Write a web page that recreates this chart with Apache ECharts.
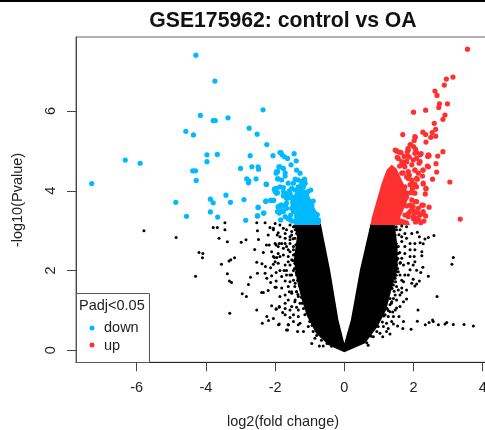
<!DOCTYPE html>
<html><head><meta charset="utf-8">
<style>html,body{margin:0;padding:0;background:#fff;overflow:hidden}#c{width:485px;height:430px;filter:blur(0.35px)}</style>
<script src="https://cdn.jsdelivr.net/npm/echarts@6/dist/echarts.min.js"></script>
</head><body><div id="c"></div>
<script>
const titleText = 'GSE175962: control vs OA';
const xName = 'log2(fold change)';
const yName = '-log10(Pvalue)';
const legendTitle = 'Padj<0.05';
const xTicks = [-6,-4,-2,0,2,4];
const yTicks = [0,2,4,6];

// genes significantly down
const down = [[-4.29,7.40],[-3.74,6.75],[-2.35,6.03],[-4.16,5.89],[-3.79,5.76],[-3.73,5.76],[-3.36,5.83],[-2.75,5.57],[-2.52,5.42],[-4.58,5.49],[-4.36,5.40],[-2.24,5.16],[-3.97,4.90],[-3.67,4.91],[-3.97,4.73],[-2.72,4.88],[-2.06,4.88],[-6.33,4.77],[-5.90,4.69],[-7.30,4.18],[-4.38,4.50],[-4.30,4.50],[-4.28,4.26],[-3.00,4.56],[-2.67,4.60],[-2.49,4.60],[-2.48,4.54],[-2.82,4.30],[-2.76,4.25],[-2.77,4.20],[-2.55,4.30],[-2.25,4.16],[-1.96,4.48],[-1.89,4.60],[-1.86,4.96],[-1.93,4.30],[-3.42,3.89],[-3.87,3.79],[-3.79,3.70],[-3.29,3.71],[-2.90,3.78],[-4.87,3.71],[-3.87,3.47],[-3.66,3.34],[-4.56,3.36],[-2.85,3.26],[-2.49,3.58],[-2.51,3.37],[-2.33,3.44],[-2.27,3.74],[-2.12,3.76],[-2.04,3.76],[-2.02,4.04],[-1.96,4.06],[-1.96,3.94],[-1.91,3.60],[-1.93,3.48],
[-1.83,4.96],[-1.80,4.90],[-1.73,4.85],[-1.64,4.81],[-1.45,4.93],[-1.39,4.75],[-1.54,4.65],[-1.86,4.60],[-1.93,4.48],[-1.71,4.45],[-1.71,4.37],[-1.81,4.27],[-1.91,4.30],[-1.38,4.52],[-1.28,4.44],[-1.42,4.29],[-1.33,4.27],[-1.15,4.29],[-1.13,4.19],[-0.97,4.02],[-1.52,4.06],[-1.59,4.00],[-1.76,4.08],[-1.76,3.98],[-1.97,4.06],[-1.93,3.95],[-1.76,3.87],[-2.26,4.17],[-2.27,3.74],[-2.13,3.76],[-2.05,3.76],[-2.49,3.59],[-2.33,3.44],[-2.51,3.37],[-1.84,3.27],[-1.91,3.60],[-1.81,3.64],[-1.76,3.48],[-1.81,3.50],[-1.52,3.56],[-1.55,3.39],[-1.47,3.48],[-1.67,3.69],
[-1.62,3.30],[-1.70,3.60],[-1.60,3.82],[-1.66,3.92],[-1.24,4.15],[-1.05,3.98],[-0.90,3.74],[-0.78,3.40],[-0.74,3.24],[-1.50,3.24],
[-1.67,3.81],[-1.52,3.85],[-1.42,4.02],[-1.57,3.94],[-1.67,3.56],[-1.84,3.64],[-1.88,3.44],[-1.71,3.35],[-1.62,3.31],[-1.55,3.27],[-1.47,4.19],[-1.62,4.19],[-1.23,4.23],[-1.18,4.10],[-1.09,3.89],[-0.94,3.64],[-0.85,3.44],[-0.75,3.27],[-2.00,3.98],[-1.86,4.10],[-1.97,4.44],[-1.76,4.56],[-1.33,4.10]];
// outline of the solid blue cluster
const downCore = [[-1.45,3.14],[-1.45,3.40],[-1.55,3.60],[-1.57,3.73],[-1.42,3.95],[-1.30,4.12],[-1.12,4.02],[-0.95,3.77],[-0.82,3.50],[-0.70,3.14]];

// genes significantly up
const up = [[3.56,7.55],[3.14,6.85],[2.95,6.80],[2.89,6.65],[2.62,6.50],[2.68,6.39],[2.98,6.18],[2.75,6.18],[2.73,6.09],[2.35,6.02],[2.00,5.97],[2.91,5.90],[2.85,5.79],[2.60,5.69],[2.64,5.54],[2.54,5.46],[2.27,5.47],[2.35,5.41],[2.50,5.34],[2.64,5.37],[2.36,5.22],[1.69,5.41],[2.05,5.34],[2.02,5.26],[1.92,5.16],[2.00,5.11],[1.84,5.06],[2.06,5.04],[1.47,5.02],[1.53,4.99],[1.61,4.96],[1.82,4.97],[2.09,4.96],[2.22,4.93],[2.45,4.88],[2.41,4.86],[2.70,4.87],[2.85,4.98],[1.53,4.84],[1.73,4.86],[1.88,4.84],[2.09,4.81],[1.80,4.73],[2.16,4.69],[1.71,4.65],[2.40,4.62],[2.65,4.68],[2.27,4.52],[2.04,4.52],[2.67,4.47],[1.88,4.39],[2.26,4.37],[2.55,4.29],[3.05,4.22],[2.11,4.29],[1.85,4.31],[2.28,4.17],[2.04,4.17],[1.97,4.06],[2.36,4.05],[2.34,3.92],[3.35,3.29],[2.09,3.73],[2.28,3.64],[2.45,3.59],[1.99,3.60],[2.28,3.48],[1.90,3.48],[2.35,3.37],[2.14,3.44],[2.30,3.24],[2.21,3.20],[1.80,3.85],[1.95,3.77],[2.04,3.48],[1.75,4.10],[1.82,3.94],[1.69,3.69],[1.85,3.35],[1.75,3.39],
[1.93,3.95],[1.95,4.20],[1.70,4.45],[1.60,4.62],[2.00,3.30],[2.06,3.22],[2.15,3.27],[1.95,3.62],[1.80,3.62],
[1.51,5.00],[1.64,4.96],[1.56,4.81],[1.85,5.02],[1.90,5.15],[2.04,5.36],[2.04,4.94],[2.19,4.90],[2.43,4.90],[1.85,4.86],[1.99,4.77],[2.19,4.73],[2.43,4.60],[2.28,4.52],[2.04,4.52],[1.75,4.60],[1.85,4.48],[2.09,4.31],[2.28,4.19],[2.09,4.10],[2.36,4.06],[2.04,3.73],[2.24,3.64],[2.14,3.56],[2.28,3.43],[1.90,3.64],[1.85,3.43],[1.71,4.02],[1.75,3.85],[1.95,4.27],[1.80,4.35],[1.66,4.44],[1.95,3.98],[2.04,3.94],[1.90,4.15],[2.14,4.44],[1.95,4.65],[1.80,4.73],[1.66,4.73],[1.99,3.35],[2.09,3.31],[2.19,3.39],[1.95,3.52],[2.02,3.43]];
// outline of the solid red cluster
const upCore = [[0.76,3.14],[0.79,3.31],[0.94,3.77],[1.08,4.19],[1.22,4.52],[1.37,4.65],[1.51,4.56],[1.66,4.27],[1.80,4.02],[1.85,3.81],[1.71,3.52],[1.61,3.31],[1.85,3.25],[1.90,3.14]];

// not significant genes
const ns = [[-5.79,3.00],[-4.86,2.83],[-4.20,2.45],[-4.09,2.43],[-4.10,2.32],[-4.30,1.86],[-3.31,0.93],[-3.55,2.16],[-3.33,2.24],[-3.28,2.27],[-3.17,2.32],[-3.38,1.92],[-3.32,1.74],[-3.26,1.70],[-2.95,1.42],[-2.83,1.35],[-2.77,1.65],[-2.71,1.83],[-2.59,2.53],[-2.53,2.21],[-2.51,1.93],[-2.53,1.01],[-2.39,1.45],[-2.34,1.45],[-2.37,0.68],[-2.24,0.85],[-2.19,0.75],[-2.05,0.80],[-2.10,1.12],[-1.97,1.03],[-1.88,1.08],[-2.20,1.50],[-2.38,2.17],[-2.28,2.10],[-2.29,1.93],[-2.13,2.07],[-2.05,2.16],[-1.97,1.95],[-2.24,1.81],[-2.10,1.87],[-2.13,1.70],[-1.97,1.74],[-2.00,1.58],[-2.34,2.45],[-2.10,2.47],[-2.25,2.64],[-2.17,2.64],[-1.97,2.64],[-1.88,2.68],[-2.02,2.33],[-1.95,2.33],[-1.91,2.43],[-2.98,2.71],[-2.84,2.77],[-2.48,2.78],[-2.51,3.00],[-2.20,2.89],[-2.05,3.06],[-1.91,2.95],[-2.53,3.20],[-2.29,3.20],[-2.15,3.08],[-3.45,3.02],[-3.79,3.08],[-3.67,3.08],[-3.62,2.81],[-3.38,2.72],[-3.45,3.20],[-1.90,0.64],
[-1.88,0.66],[-1.62,0.64],[-1.64,0.51],[-1.35,0.47],[-1.33,0.64],[-1.57,0.82],[-1.38,1.08],[-1.52,1.10],[-1.71,1.05],[-1.78,0.95],[-1.88,1.10],[-1.97,1.04],[-1.71,1.39],[-1.59,1.47],[-1.81,1.56],[-1.97,1.58],[-1.71,1.74],[-1.57,1.72],[-1.43,1.60],[-1.38,1.47],[-1.52,1.89],[-1.38,1.89],[-1.81,1.85],[-1.67,2.00],[-1.57,2.14],[-1.43,2.18],[-1.71,2.14],[-1.86,2.35],[-1.76,2.56],[-1.62,2.52],[-1.47,2.39],[-1.91,2.60],[-1.57,2.68],[-1.86,2.85],[-1.71,2.81],[-1.52,2.89],[-1.38,2.93],[-1.67,3.02],[-1.47,3.10],[-1.86,3.14],[-2.05,3.02],[-2.00,3.18],
[-1.52,2.98],[-1.42,3.02],[-1.57,2.77],[-1.47,2.52],[-1.62,2.35],[-1.42,2.18],[-1.57,1.89],[-1.42,1.68],[-1.52,1.47],[-1.38,1.47],[-1.42,1.26],[-1.28,1.18],[-1.18,1.05],[-1.33,1.01],[-1.14,0.89],[-1.28,0.68],[-1.18,0.47],[-1.04,0.60],[-0.94,0.17],[-0.72,0.11],[-0.61,0.11],[-0.85,0.30],[-0.37,0.10],[-1.67,0.51],[-1.62,0.64],
[-1.48,2.80],[-1.40,2.65],[-1.43,2.40],[-1.49,2.25],[-1.44,2.05],[-1.39,1.95],[-1.35,1.75],[-1.30,1.62],[-1.34,1.40],[-1.24,1.33],[-1.22,1.18],[-1.10,1.07],[-1.08,0.93],[-1.00,0.72],[-0.93,0.62],[-0.90,0.47],[-0.80,0.37],[-0.66,0.25],[-0.50,0.17],[-1.28,2.96],[-1.45,3.10],[-1.31,3.08],[-1.35,2.42],[-1.33,2.10],
[-2.05,2.35],[-2.00,2.22],[-1.91,2.18],[-1.76,2.39],[-1.67,2.60],[-1.57,2.47],[-1.47,2.60],[-1.86,2.00],[-1.74,2.00],[-1.62,2.22],[-1.52,2.27],[-1.40,2.43],[-1.33,2.56],[-1.71,2.93],[-1.57,2.85],[-1.43,2.81],[-1.33,3.02],[-1.57,3.14],[-1.76,3.06],[-1.94,2.89],[-2.00,2.68],[-1.81,2.68],[-1.71,2.68],[-1.67,1.89],[-1.47,1.76],[-1.33,1.76],[-1.33,2.06],[-1.47,2.00],[-1.62,1.60],[-1.52,1.43],[-1.33,1.35],[-1.43,1.22],[-1.62,1.26],[-1.86,1.35],[-1.71,1.18],[-1.57,1.01],[-1.47,0.89],[-1.71,0.89],[-1.47,0.72],[-1.33,0.85],
[3.73,0.61],[3.46,0.65],[3.15,0.65],[2.96,0.70],[2.91,0.66],[2.72,0.64],[2.55,0.76],[2.57,0.72],[2.45,0.70],[2.34,0.64],[2.11,0.73],[2.13,1.01],[2.68,1.35],[3.15,2.33],[3.11,2.16],[2.43,1.86],[2.59,2.88],[2.43,2.83],[2.33,2.79],[2.28,2.67],[2.19,2.70],[2.11,2.96],[2.17,2.85],[2.24,2.47],[2.24,2.37],[2.04,2.68],[2.02,2.35],[2.04,2.22],[2.27,2.08],[2.21,1.95],[1.99,1.78],[2.17,1.74],[2.09,1.66],[2.04,1.61],[1.80,1.51],[1.66,1.45],[1.80,1.29],[1.58,0.85],[1.71,0.72],[1.69,0.55],[1.54,0.61],[1.93,0.53],[1.42,0.66],[1.32,0.41],[1.11,0.34],[1.22,0.47],[0.69,0.13],[0.65,0.19],[0.84,0.34],[1.75,2.93],[1.95,2.93],[1.61,3.02],[1.90,2.68],[1.75,2.43],[1.90,2.35],[1.71,2.14],[1.90,2.02],[1.85,1.89],[1.61,1.89],[1.71,1.72],[1.56,1.51],[1.61,1.10],[1.47,1.01],[1.42,0.85],[1.22,0.68],[1.71,1.22],[1.51,1.26],[1.42,2.77],[1.56,2.60],[1.51,2.26],[1.42,1.64],[1.47,1.39],[1.32,1.14],[1.27,0.85],
[1.50,3.10],[1.58,2.90],[1.50,2.68],[1.60,2.45],[1.55,2.30],[1.62,2.20],[1.54,2.05],[1.50,1.88],[1.48,1.72],[1.38,1.55],[1.44,1.48],[1.32,1.30],[1.36,1.18],[1.24,1.05],[1.27,1.00],[1.14,0.86],[1.10,0.71],[0.98,0.60],[0.94,0.47],[0.78,0.35],[1.45,3.02],[1.66,3.12],[1.80,3.10],[1.40,0.96],
[1.51,3.02],[1.66,2.85],[1.47,2.89],[1.80,2.81],[1.66,2.73],[1.75,2.60],[1.56,2.43],[1.66,2.31],[1.51,2.14],[1.61,2.18],[1.56,1.97],[1.47,2.01],[1.75,1.89],[1.66,1.76],[1.47,1.81],[1.51,1.60],[1.37,1.56],[1.66,1.56],[1.61,1.39],[1.42,1.30],[1.37,1.22],[1.51,1.06],[1.32,0.97],[1.18,0.89],[1.37,0.72],[1.13,0.60],[1.27,0.55],[1.03,0.43],[1.90,2.52],[2.04,2.52],[1.85,2.18],[1.99,2.14],[2.09,2.01],[1.95,1.68]];
// outline of the solid black V
const nsCore = [[-1.45,3.18],[-1.37,2.85],[-1.46,2.26],[-1.37,1.76],[-1.23,1.26],[-1.07,0.84],[-0.82,0.43],[-0.45,0.13],[0,-0.05],[0.60,0.18],[0.96,0.59],[1.21,1.01],[1.36,1.51],[1.54,2.01],[1.54,2.60],[1.45,3.18],[0.76,3.18],[0.45,2.01],[0.19,0.76],[0,0.18],[-0.17,0.76],[-0.41,2.01],[-0.68,3.18]];

const BLUE='#00B9FF', RED='#FF3030', TXT='#222';
const FONT='14.5px "Liberation Sans"';
function core(points,color){
  return {type:'custom',coordinateSystem:'cartesian2d',silent:true,data:[0],
    renderItem:(p,api)=>({type:'polygon',shape:{points:points.map(q=>api.coord(q))},style:{fill:color}})};
}
function dots(d,color,size){return {type:'scatter',data:d,symbolSize:size,itemStyle:{color,opacity:1},silent:true};}

const chart=echarts.init(document.getElementById('c'),null,{renderer:'canvas'});
chart.setOption({
  animation:false,backgroundColor:'#fff',
  textStyle:{fontFamily:'"Liberation Sans",Arial,sans-serif'},
  grid:{left:76,top:37,width:420,height:325.3,outerBoundsMode:'none',show:true,borderColor:'#666',borderWidth:1,backgroundColor:'transparent'},
  xAxis:{type:'value',min:-7.754,max:4.384,splitLine:{show:false},
    axisLine:{show:true,onZero:false,lineStyle:{color:'#222'}},
    axisTick:{show:true,length:9,customValues:xTicks,lineStyle:{color:'#444'}},
    axisLabel:{show:true,customValues:xTicks,margin:18,fontSize:14.5,color:TXT,hideOverlap:false,alignMinLabel:'center',alignMaxLabel:'center'}},
  yAxis:{type:'value',min:-0.30,max:7.855,splitLine:{show:false},
    axisLine:{show:true,onZero:false,lineStyle:{color:'#444'}},
    axisTick:{show:true,length:9,customValues:yTicks,lineStyle:{color:'#444'}},
    axisLabel:{show:true,customValues:yTicks,rotate:90,margin:18,fontSize:14.5,color:TXT}},
  series:[core(nsCore,'#000'),dots(ns,'#000',3),
          core(downCore,BLUE),dots(down,BLUE,5.2),
          core(upCore,RED),dots(up,RED,5.2)],
  graphic:[
    {type:'rect',shape:{x:0,y:0,width:485,height:2},style:{fill:'#000'},z:10},
    {type:'text',x:283,y:21,style:{text:titleText,font:'bold 21.2px "Liberation Sans"',fill:'#111',textAlign:'center',textVerticalAlign:'middle'},z:10},
    {type:'text',x:283,y:422,style:{text:xName,font:FONT,fill:TXT,textAlign:'center',textVerticalAlign:'middle'},z:10},
    {type:'text',x:18,y:200,rotation:Math.PI/2,style:{text:yName,font:FONT,fill:TXT,textAlign:'center',textVerticalAlign:'middle'},z:10},
    {type:'rect',shape:{x:76.5,y:293.5,width:73,height:69},style:{fill:'#fff',stroke:'#555',lineWidth:1},z:11},
    {type:'text',x:79,y:306,style:{text:legendTitle,font:FONT,fill:TXT,textVerticalAlign:'middle'},z:12},
    {type:'circle',shape:{cx:92,cy:328,r:2.5},style:{fill:BLUE},z:12},
    {type:'text',x:104,y:328,style:{text:'down',font:FONT,fill:TXT,textVerticalAlign:'middle'},z:12},
    {type:'circle',shape:{cx:92,cy:345,r:2.5},style:{fill:RED},z:12},
    {type:'text',x:104,y:346,style:{text:'up',font:FONT,fill:TXT,textVerticalAlign:'middle'},z:12}
  ]
});
</script></body></html>
